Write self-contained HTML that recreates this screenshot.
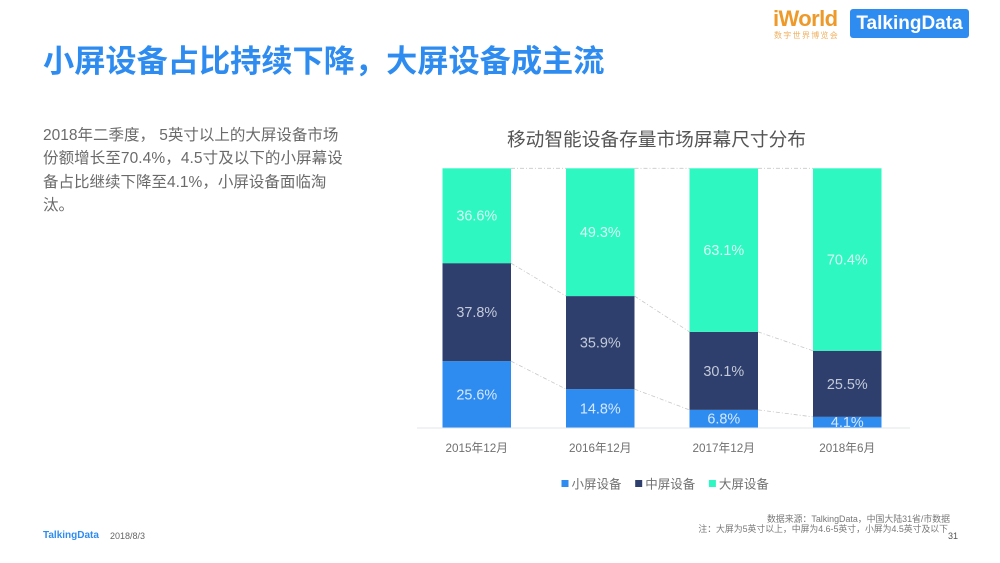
<!DOCTYPE html>
<html lang="zh-CN">
<head>
<meta charset="utf-8">
<title>小屏设备占比持续下降&#xFF0C;大屏设备成主流</title>
<style>
html,body{margin:0;padding:0;background:#fff;}
body{width:1000px;height:563px;overflow:hidden;position:relative;font-family:"Liberation Sans","Noto Sans CJK SC",sans-serif;}
.abs{position:absolute;white-space:nowrap;}
#title{left:43px;top:40px;font-size:31.2px;line-height:44px;font-weight:700;color:#2e8cf0;}
.body-line{left:43px;font-size:15.5px;line-height:24px;color:#6a6a6a;}
svg{position:absolute;left:0;top:0;}
</style>
</head>
<body>
<div class="abs" id="title">小屏设备占比持续下降&#xFF0C;大屏设备成主流</div>
<div class="abs body-line" style="top:124px">2018年二季度&#xFF0C; 5英寸以上的大屏设备市场</div>
<div class="abs body-line" style="top:147px;letter-spacing:.08px">份额增长至70.4%&#xFF0C;4.5寸及以下的小屏幕设</div>
<div class="abs body-line" style="top:171px">备占比继续下降至4.1%&#xFF0C;小屏设备面临淘</div>
<div class="abs body-line" style="top:194px">汰。</div>

<div class="abs" style="left:773px;top:8px;font-size:22px;line-height:22px;font-weight:700;color:#ee9a2b;letter-spacing:-.6px">iWorld</div>
<div class="abs" style="left:774px;top:31px;font-size:8px;line-height:9px;color:#f0b060;letter-spacing:1.3px">数字世界博览会</div>
<div class="abs" style="left:850px;top:9px;width:119px;height:29px;background:#2e8cf0;border-radius:3px;color:#fff;font-size:19px;font-weight:700;line-height:30px;text-align:center">TalkingData</div>

<svg id="chart" width="1000" height="563" viewBox="0 0 1000 563"></svg>

<div class="abs" style="left:43px;top:529px;font-size:10px;line-height:14px;font-weight:700;color:#2e8cf0">TalkingData</div>
<div class="abs" style="left:110px;top:530px;font-size:9px;line-height:13px;color:#666">2018/8/3</div>
<div class="abs" style="right:50px;top:513px;font-size:8.9px;line-height:13px;color:#777">数据来源&#xFF1A;TalkingData&#xFF0C;中国大陆31省/市数据</div>
<div class="abs" style="right:52px;top:523px;font-size:8.85px;line-height:13px;color:#777">注&#xFF1A;大屏为5英寸以上&#xFF0C;中屏为4.6-5英寸&#xFF0C;小屏为4.5英寸及以下</div>
<div class="abs" style="left:948px;top:530px;font-size:9px;line-height:13px;color:#555">31</div>

<script>
const categories = ['2015年12月', '2016年12月', '2017年12月', '2018年6月'];
const smallScreen = [25.6, 14.8, 6.8, 4.1];
const mediumScreen = [37.8, 35.9, 30.1, 25.5];
const largeScreen = [36.6, 49.3, 63.1, 70.4];
const seriesNames = ['小屏设备', '中屏设备', '大屏设备'];

const NS = 'http://www.w3.org/2000/svg';
const svg = document.getElementById('chart');
const plot = {left: 415, right: 909, top: 168.3, bottom: 427.5};
const barWidth = 68.5;
const colors = ['#2e8cf0', '#2e3f6e', '#2ff7c2'];
const labelColors = ['#d6e8fc', '#c4cad8', '#d8fdf3'];
const series = [smallScreen, mediumScreen, largeScreen];

function xCenter(i) {
  return plot.left + (plot.right - plot.left) * (i + 0.5) / categories.length;
}
function yScale(v) {
  return plot.bottom - (plot.bottom - plot.top) * v / 100;
}
function make(tag, attrs, text) {
  const el = document.createElementNS(NS, tag);
  Object.keys(attrs).forEach(function (k) { el.setAttribute(k, attrs[k]); });
  if (text !== undefined) el.textContent = text;
  svg.appendChild(el);
  return el;
}

const chartTitle = make('text', {x: 656.5, y: 146, 'text-anchor': 'middle', 'font-size': 18.7, fill: '#555'}, '移动智能设备存量市场屏幕尺寸分布');



const defs = document.createElementNS(NS, 'defs');
const clip = document.createElementNS(NS, 'clipPath');
clip.setAttribute('id', 'plot-clip');
const clipRect = document.createElementNS(NS, 'rect');
clipRect.setAttribute('x', plot.left);
clipRect.setAttribute('y', plot.top);
clipRect.setAttribute('width', plot.right - plot.left);
clipRect.setAttribute('height', plot.bottom - plot.top);
clip.appendChild(clipRect);
defs.appendChild(clip);
svg.appendChild(defs);

// Connector lines between the tops of each stacked segment
series.forEach(function (values, s) {
  for (let i = 0; i < categories.length - 1; i++) {
    let a = 0, b = 0;
    for (let k = 0; k <= s; k++) { a += series[k][i]; b += series[k][i + 1]; }
    const line = make('line', {
      x1: xCenter(i) + barWidth / 2, y1: yScale(a),
      x2: xCenter(i + 1) - barWidth / 2, y2: yScale(b),
      stroke: '#c8c8c8', 'stroke-width': 0.8, 'stroke-dasharray': '4 2 1 2'
    });
    
    
  }
});

// Stacked bars
categories.forEach(function (cat, i) {
  let base = 0;
  series.forEach(function (values, s) {
    const v = values[i];
    const y0 = yScale(base), y1 = yScale(base + v);
    const bar = make('rect', {x: xCenter(i) - barWidth / 2, y: y1, width: barWidth, height: y0 - y1, fill: colors[s]});
    
    
    base += v;
  });
});

// Value labels
categories.forEach(function (cat, i) {
  let base = 0;
  series.forEach(function (values, s) {
    const v = values[i];
    const mid = yScale(base + v / 2);
    const label = make('text', {
      x: xCenter(i), y: mid + 5, 'text-anchor': 'middle', 'font-size': 14.4,
      fill: labelColors[s], 'clip-path': 'url(#plot-clip)'
    }, v.toFixed(1) + '%');
    
    
    base += v;
  });
});

const axis = make('line', {x1: 417, x2: 910, y1: plot.bottom + 0.5, y2: plot.bottom + 0.5, stroke: '#e2e5ea', 'stroke-width': 1});



categories.forEach(function (cat, i) {
  const tick = make('text', {x: xCenter(i), y: 452, 'text-anchor': 'middle', 'font-size': 11.7, fill: '#707070'}, cat);
  
  
});

// Legend
seriesNames.forEach(function (name, s) {
  const lx = 561.5 + s * 73.7;
  const swatch = make('rect', {x: lx, y: 480, width: 7, height: 7, fill: colors[s]});
  
  
  const text = make('text', {x: lx + 10, y: 488.5, 'font-size': 12.5, fill: '#707070'}, name);
  
  
});
</script>
</body>
</html>
